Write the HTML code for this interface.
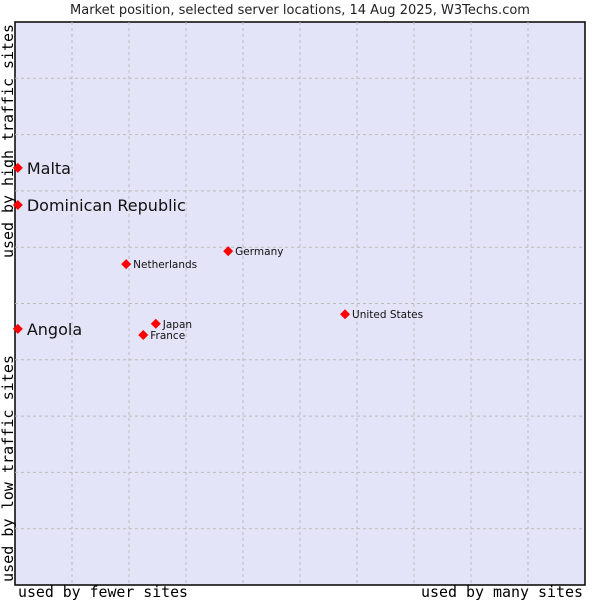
<!DOCTYPE html>
<html><head><meta charset="utf-8"><style>
body{margin:0;background:#fff;}
svg{display:block;font-family:"DejaVu Sans","Liberation Sans",sans-serif;}
</style></head><body>
<svg id="chart" width="600" height="600">
<text x="300" y="14" text-anchor="middle" font-size="13" fill="#222">Market position, selected server locations, 14 Aug 2025, W3Techs.com</text>
<rect x="15" y="22" width="570" height="563" fill="#e4e4f8" stroke="#000" stroke-width="1.5"/>
<g id="grid"></g>
<g id="points"></g>
<text x="18" y="597" font-family="DejaVu Sans Mono,Liberation Mono,monospace" font-size="15" textLength="170" lengthAdjust="spacingAndGlyphs">used by fewer sites</text>
<text x="583" y="597" text-anchor="end" font-family="DejaVu Sans Mono,Liberation Mono,monospace" font-size="15" textLength="162" lengthAdjust="spacingAndGlyphs">used by many sites</text>
<text transform="translate(13,582) rotate(-90)" font-family="DejaVu Sans Mono,Liberation Mono,monospace" font-size="15" textLength="227" lengthAdjust="spacingAndGlyphs">used by low traffic sites</text>
<text transform="translate(13,258) rotate(-90)" font-family="DejaVu Sans Mono,Liberation Mono,monospace" font-size="15" textLength="234" lengthAdjust="spacingAndGlyphs">used by high traffic sites</text>
</svg>
<script>
const names=["Malta","Dominican Republic","Angola","Netherlands","Germany","Japan","France","United States"];
const xs=[0.05,0.05,0.05,1.95,3.74,2.47,2.25,5.79];
const ys=[7.41,6.75,4.55,5.70,5.93,4.64,4.44,4.81];
const big=[true,true,true,false,false,false,false,false];
const NS="http://www.w3.org/2000/svg";
const L=15,R=585,T=22,B=585;
const sx=v=>L+v*(R-L)/10, sy=v=>B-v*(B-T)/10;
const grid=document.getElementById('grid');
for(let i=1;i<10;i++){
 let l=document.createElementNS(NS,'line');
 
 
 l.setAttribute('x1',sx(i));l.setAttribute('x2',sx(i));l.setAttribute('y1',T);l.setAttribute('y2',B);
 l.setAttribute('stroke','#bbb');l.setAttribute('stroke-dasharray','3,3');grid.appendChild(l);
 let h=document.createElementNS(NS,'line');
 
 
 h.setAttribute('y1',sy(i));h.setAttribute('y2',sy(i));h.setAttribute('x1',L);h.setAttribute('x2',R);
 h.setAttribute('stroke','#bbb');h.setAttribute('stroke-dasharray','3,3');grid.appendChild(h);
}
const pts=document.getElementById('points');
names.forEach((n,i)=>{
 const x=Math.max(sx(xs[i]),17),y=sy(ys[i]);
 let d=document.createElementNS(NS,'polygon');
 
 
 d.setAttribute('points',`${x},${y-5} ${x+5},${y} ${x},${y+5} ${x-5},${y}`);
 d.setAttribute('fill','#f00');pts.appendChild(d);
 let t=document.createElementNS(NS,'text');
 
 
 t.setAttribute('x',x+(big[i]?9:7));t.setAttribute('y',y+(big[i]?6:4));
 t.setAttribute('font-size',big[i]?16:10.5);t.setAttribute('fill','#111');
 t.textContent=n;pts.appendChild(t);
});
</script>
</body></html>
